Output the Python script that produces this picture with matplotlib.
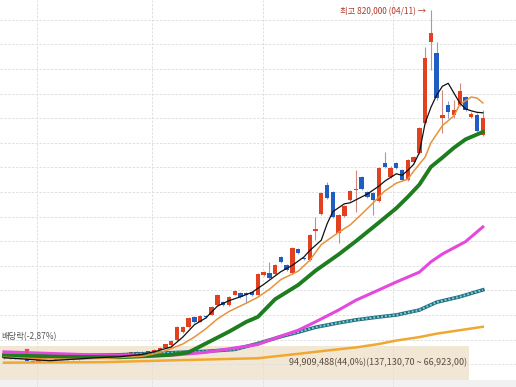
import numpy as np
import matplotlib
matplotlib.use('Agg')
import matplotlib.pyplot as plt

plt.rcParams['font.family'] = ['Noto Sans CJK KR', 'DejaVu Sans']

K = 1000  # prices below are in thousands of won

# daily candles (open, high, low, close), oldest first
opens = [114, 113, 111, 113, 110, 106, 105, 109, 107, 110, 109, 112, 110, 110, 116, 113, 115, 113, 116, 114,
         116, 118, 116, 125, 123, 126, 124, 129, 133, 139, 149, 166, 176, 195, 186, 198, 200, 220, 226, 221,
         241, 245, 244, 246, 241, 281, 285, 283, 318, 302, 285, 334, 315, 312, 371, 405, 464, 450, 367, 401,
         434, 454, 480, 450, 448, 432, 509, 481, 509, 495, 474, 511, 530, 590, 755, 733, 600, 627, 607, 627,
         643, 602, 606, 566]
highs = [115, 114, 114, 114, 111, 107, 109, 110, 110, 111, 112, 113, 113, 118, 117, 116, 116, 116, 117, 117,
         119, 119, 125, 126, 127, 127, 130, 134, 141, 149, 177, 178, 196, 197, 199, 200, 218, 243, 228, 238,
         251, 247, 247, 248, 285, 290, 308, 304, 320, 304, 338, 337, 317, 365, 399, 451, 470, 452, 405, 424,
         455, 495, 483, 452, 450, 501, 531, 502, 512, 497, 518, 524, 583, 745, 820, 755, 657, 635, 637, 672,
         646, 612, 610, 617]
lows = [111, 111, 110, 110, 105, 103, 104, 106, 106, 108, 108, 109, 109, 109, 112, 112, 112, 112, 113, 113,
        115, 115, 115, 122, 122, 123, 123, 128, 132, 134, 148, 164, 174, 184, 185, 193, 199, 219, 219, 219,
        240, 234, 224, 238, 240, 279, 273, 281, 306, 289, 284, 324, 311, 310, 352, 403, 436, 397, 346, 399,
        432, 409, 454, 437, 403, 430, 499, 478, 497, 472, 472, 509, 528, 588, 698, 638, 570, 600, 600, 624,
        614, 600, 572, 564]
closes = [112, 112, 113, 111, 106, 104, 108, 107, 109, 109, 111, 110, 112, 116, 113, 115, 113, 115, 114, 116,
          118, 116, 124, 123, 125, 124, 129, 133, 140, 147, 175, 175, 193, 186, 197, 195, 216, 240, 221, 236,
          248, 237, 241, 241, 283, 287, 275, 302, 308, 291, 336, 326, 313, 362, 374, 448, 438, 399, 403, 421,
          452, 456, 456, 440, 434, 499, 501, 499, 499, 474, 515, 521, 580, 722, 773, 641, 607, 613, 617, 655,
          617, 608, 574, 600]

# moving averages (index, value in thousands)
ma5_idx = [0, 4, 8, 12, 16, 20, 24, 26, 29, 31, 33, 35, 37, 39, 41, 43, 45, 48, 50, 52, 53, 55, 56, 57, 59, 60,
           62, 63, 65, 66, 68, 69, 70, 71, 72, 73, 74, 75, 76, 77, 78, 79, 80, 81, 82, 83]
ma5 = [113, 110, 107, 110, 113, 115, 120, 125, 135, 155, 180, 194, 218, 229, 237, 246, 262, 288, 301, 318, 331,
       352, 385, 410, 426, 428, 440, 446, 462, 472, 487, 484, 494, 506, 530, 590, 622, 647, 665, 671, 651, 631,
       619, 615, 612, 611]
ma10_idx = [0, 6, 12, 18, 24, 26, 28, 31, 33, 35, 37, 39, 42, 44, 46, 48, 51, 53, 55, 58, 60, 62, 64, 66, 68,
            70, 71, 73, 74, 76, 78, 79, 81, 82, 83]
ma10 = [114, 111, 110, 112, 116, 121, 127, 141, 155, 172, 192, 207, 224, 236, 252, 272, 289, 311, 343, 368, 383,
        405, 428, 452, 468, 476, 492, 521, 550, 585, 605, 628, 643, 641, 631]
ma20_idx = [0, 10, 20, 26, 29, 32, 35, 39, 42, 44, 47, 51, 54, 58, 61, 65, 68, 70, 72, 74, 76, 78, 80, 83]
ma20 = [118, 115, 114, 117, 119, 124, 142, 166, 186, 196, 232, 261, 290, 323, 350, 388, 417, 440, 465, 501, 520,
        540, 557, 572]
ma60_idx = [0, 5, 10, 15, 20, 25, 30, 35, 40, 44, 47, 51, 54, 58, 61, 65, 68, 72, 74, 76, 80, 83]
ma60 = [125, 123, 121, 119, 118, 118, 119, 124, 133, 140, 153, 169, 186, 210, 230, 251, 267, 287, 308, 324, 349,
        379]
ma120_idx = [0, 10, 20, 26, 35, 40, 44, 48, 51, 54, 58, 61, 65, 68, 72, 75, 79, 83]
ma120 = [116, 117, 119, 122, 126, 130, 142, 156, 165, 175, 184, 190, 196, 200, 210, 226, 237, 251]
ma240_idx = [0, 17, 30, 44, 51, 57, 61, 65, 68, 72, 75, 79, 83]
ma240 = [103, 104, 108, 112, 121, 129, 134, 141, 148, 155, 162, 169, 176]

month_lines = [5.7, 25.7, 44.9, 67.4]
band_low, band_high = 66923, 137130
band_label = '94,909,488(44,0%)(137,130,70 ~ 66,923,00)'
peak_label = '최고 820,000 (04/11) →'
exdiv_label = '배당락(-2,87%)'
exdiv_idx = 4

o = np.array(opens) * K
h = np.array(highs) * K
l = np.array(lows) * K
c = np.array(closes) * K
idx = np.arange(len(o))
up = c >= o

fig = plt.figure(figsize=(5.16, 3.87), dpi=100)
ax = fig.add_axes([0, 0, 1, 1])
ax.set_xlim(-0.68, 88.75)
ax.set_ylim(53560, 840330)

# grid
ax.set_yticks(np.arange(100000, 800001, 50000))
ax.set_xticks(month_lines)
ax.grid(True, color='#e0e0e0', lw=0.7, ls=(0, (2.5, 1.5)), zorder=0.5)
ax.tick_params(length=0, labelleft=False, labelbottom=False)
for s in ax.spines.values():
    s.set_visible(False)

# price-volume band at the bottom
ax.axhspan(band_low, band_high, xmin=0, xmax=0.909, color='#f2e7d4', zorder=0.2, lw=0)
ax.axhspan(53560, band_low, color='#f1f1f1', zorder=0.2, lw=0)
ax.text(0.733, (band_low + band_high) / 2, band_label, transform=ax.get_yaxis_transform(),
        ha='center', va='center', fontsize=6.5, color='#5b4c3c', zorder=6)

# candles
red, blue = '#e3401f', '#1f5cc4'
ax.vlines(idx[up], l[up], h[up], color='#d08a80', lw=0.8, zorder=2)
ax.vlines(idx[~up], l[~up], h[~up], color='#87a0cc', lw=0.8, zorder=2)
body = np.maximum(np.abs(c - o), 1800)
bottom = np.minimum(o, c)
ax.bar(idx[up], body[up], bottom=bottom[up], width=0.76, color=red, lw=0, zorder=3)
ax.bar(idx[~up], body[~up], bottom=bottom[~up], width=0.76, color=blue, lw=0, zorder=3)

# moving averages
ax.plot(ma240_idx, np.array(ma240) * K, color='#f0a830', lw=1.8, zorder=4)
ax.plot(ma120_idx, np.array(ma120) * K, color='#2a6c7c', lw=2.6, zorder=4.1)
ax.plot(ma120_idx, np.array(ma120) * K, color='#6ad8e0', lw=1.4, ls=(0, (1, 1)), zorder=4.15)
ax.plot(ma60_idx, np.array(ma60) * K, color='#e448dc', lw=2.2, zorder=4.2)
ax.plot(ma20_idx, np.array(ma20) * K, color='#1e7d1e', lw=2.8, zorder=4.3)
ax.plot(ma10_idx, np.array(ma10) * K, color='#e8923a', lw=1.1, zorder=4.4)
ax.plot(ma5_idx, np.array(ma5) * K, color='#111111', lw=0.9, zorder=4.5)

# annotations
peak = int(np.argmax(h))
ax.text(peak - 0.85, h[peak] - 4000, peak_label, ha='right', va='center',
        fontsize=6, color='#b03a2a', zorder=6)
ax.text(-0.5, 155000, exdiv_label, ha='left', va='center', fontsize=6, color='#555555', zorder=6)
ax.annotate('', xy=(exdiv_idx, h[exdiv_idx] + 3000), xytext=(exdiv_idx, 134000),
            arrowprops=dict(arrowstyle='-|>', color='#e8407a', lw=1.0, mutation_scale=6), zorder=6)

fig.savefig('out.png', dpi=100)
